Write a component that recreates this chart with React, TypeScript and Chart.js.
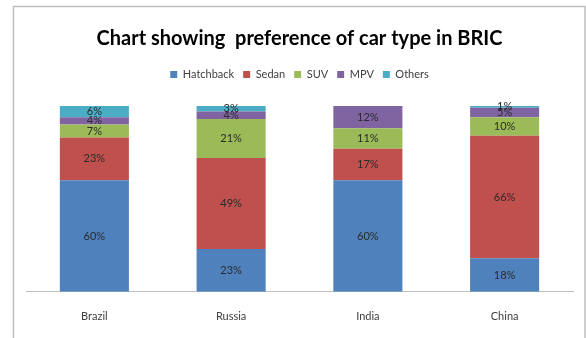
import React, { useEffect, useRef } from "react";
import { Chart, registerables } from "chart.js";

Chart.register(...registerables);

const categories = ["Brazil", "Russia", "India", "China"];
const hatchback = [60, 23, 60, 18];
const sedan = [23, 49, 17, 66];
const suv = [7, 21, 11, 10];
const mpv = [4, 4, 12, 5];
const others = [6, 3, 0, 1];
const seriesNames = ["Hatchback", "Sedan", "SUV", "MPV", "Others"];
const seriesColors = ["#4F81BD", "#C0504D", "#9BBB59", "#8064A2", "#4BACC6"];
const titleText = "Chart showing  preference of car type in BRIC";

const FONT = "Lato, 'Open Sans', sans-serif";

const framePlugin = {
  id: "frame",
  beforeDraw(chart: any) {
    const ctx = chart.ctx;
    ctx.save();
    ctx.fillStyle = "#ffffff";
    ctx.fillRect(0, 0, chart.width, chart.height);
    ctx.strokeStyle = "#BFBFBF";
    ctx.lineWidth = 1.5;
    ctx.strokeRect(13.5, 6.5, 571.5, 340);
    ctx.restore();
  },
};

const labelPlugin = {
  id: "segLabels",
  afterDatasetsDraw(chart: any) {
    const ctx = chart.ctx;
    ctx.save();
    ctx.font = `11px ${FONT}`;
    ctx.fillStyle = "#2b2b2b";
    ctx.textAlign = "center";
    ctx.textBaseline = "middle";
    chart.data.datasets.forEach((ds: any, di: number) => {
      const meta = chart.getDatasetMeta(di);
      meta.data.forEach((bar: any, i: number) => {
        const v = ds.data[i];
        if (!v) return;
        const y = (bar.y + bar.base) / 2;
        ctx.fillText(`${v}%`, bar.x, y);
      });
    });
    ctx.restore();
  },
};

const legendSpacer = {
  id: "legendSpacer",
  beforeInit(chart: any) {
    const orig = chart.legend.fit;
    chart.legend.fit = function () {
      orig.call(this);
      this.height += 16;
    };
  },
};

export default function App() {
  const ref = useRef<HTMLCanvasElement>(null);
  useEffect(() => {
    if (!ref.current) return;
    const data = [hatchback, sedan, suv, mpv, others];
    const chart = new Chart(ref.current, {
      type: "bar",
      data: {
        labels: categories,
        datasets: seriesNames.map((name, i) => ({
          label: name,
          data: data[i],
          backgroundColor: seriesColors[i],
          borderWidth: 0,
          barPercentage: 0.505,
          categoryPercentage: 1,
        })),
      },
      options: {
        responsive: false,
        animation: false,
        layout: { padding: { left: 26, right: 13, top: 0, bottom: -3 } },
        plugins: {
          title: {
            display: true,
            text: titleText,
            color: "#000000",
            font: { family: FONT, size: 20, weight: "bold" },
            padding: { top: 27, bottom: 9 },
          },
          legend: {
            display: true,
            labels: {
              boxWidth: 7,
              boxHeight: 7,
              padding: 9,
              color: "#404040",
              font: { family: FONT, size: 11 },
            },
          },
          tooltip: { enabled: false },
        },
        scales: {
          x: {
            stacked: true,
            grid: { display: false, drawTicks: false },
            border: { display: true, color: "#BFBFBF", width: 1 },
            ticks: { color: "#404040", padding: 18, font: { family: FONT, size: 11 } },
          },
          y: {
            stacked: true,
            display: false,
            min: 0,
            max: 100,
          },
        },
      },
      plugins: [framePlugin, labelPlugin, legendSpacer],
    });
    return () => chart.destroy();
  }, []);
  return (
    <div style={{ position: "fixed", left: 0, top: 0, width: 586, height: 338 }}>
      <canvas ref={ref} width={586} height={338} />
    </div>
  );
}
